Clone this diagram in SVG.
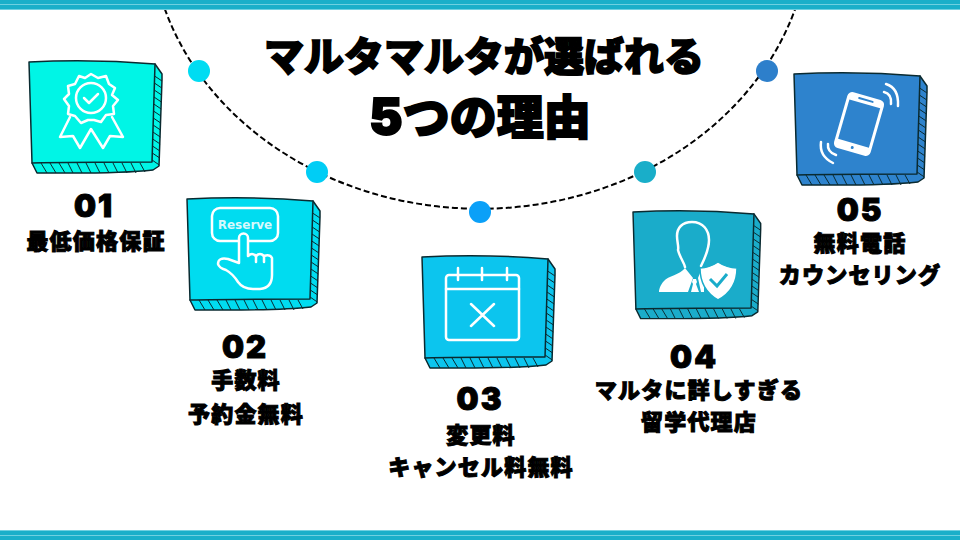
<svg xmlns="http://www.w3.org/2000/svg" width="960" height="540" viewBox="0 0 960 540">
<style>
.jp{font-family:"Noto Sans CJK JP","Noto Sans",sans-serif;font-weight:900;fill:#000;text-anchor:middle}
.t{font-size:40px;stroke:#000;stroke-width:1.6px}
.t2{font-size:47px;stroke:#000;stroke-width:1.8px}
.five{font-family:Inter,"Liberation Sans",sans-serif;font-size:50px;font-weight:900}
.l{font-size:22px;letter-spacing:1.2px;stroke:#000;stroke-width:1px}
.n{font-family:Inter,"Liberation Sans",sans-serif;font-weight:900;font-size:31px;letter-spacing:2px;text-anchor:middle;fill:#000;stroke:#000;stroke-width:1px}
.ln{fill:none;stroke:#fff;stroke-width:2.500px;stroke-linecap:round;stroke-linejoin:round}
.wf{fill:#fff}
.bx{stroke:#0a2a30;stroke-width:1.500px;stroke-linejoin:round}
.ht{fill:none;stroke:#0a2a30;stroke-width:1px}
</style>
<defs>
<g id="box">
<path class="bx" d="M126,2L133,12L133,18L130,104L124,108C90,112 50,111 8,111L3,101Z"/>
<path class="ht" d="M125.6,14l7.4,5M125.4,21l7.4,5M125.2,28l7.4,5M125,35l7.4,5M124.8,42l7.4,5M124.5,49l7.4,5M124.3,56l7.4,5M124.1,63l7.4,5M123.9,70l7.4,5M123.7,77l7.4,5M123.5,84l7.4,5M123.3,91l7.4,5M123.1,98l7.2,5M12,101l6,10M21,101l6,10M30,101l6,10M39,101l5,10M48,101l5,10M57,101l5,10M66,101l5,10M75,101l5,10M84,101l5,10M93,101l5,10M102,101l5,10M111,101l5,9"/>
<path class="bx" d="M0,0C40,-2 90,-1 126,2L123,100C85,100 40,100 3,101C2,70 1,35 0,0Z"/>
</g>
</defs>
<rect width="960" height="540" fill="#fff"/>
<g id="connectors">
<path d="M155,-26A330,284 0 0 0 805,-26" fill="none" stroke="#000" stroke-width="2" stroke-dasharray="6 3"/>
</g>
<g id="bars">
<rect width="960" height="10" fill="#1aafc9"/>
<rect y="4" width="960" height="1" fill="#6fd0e0"/>
<rect y="9" width="960" height="1" fill="#6fd0e0"/>
<rect y="530" width="960" height="10" fill="#1aafc9"/>
<rect y="530" width="960" height="1" fill="#6fd0e0"/>
<rect y="535" width="960" height="1" fill="#6fd0e0"/>
</g>
<g id="title">
<text class="jp t" x="484" y="71">マルタマルタが選ばれる</text>
<text class="jp t2" x="480" y="134"><tspan class="five">5</tspan>つの理由</text>
</g>
<g id="node-01">
<circle cx="199" cy="71" r="11" fill="#00dcf2"/>
<use href="#box" x="29" y="62" fill="#00f5e6"/>
<path class="ln" d="M91,74L98,78L106,76L109,84L115,88L112,95L118,100L113,106L114,114L106,115L101,122L94,120L88,120L81,123L75,116L68,114L69,106L64,99L69,94L68,86L75,84L79,76L85,78Z"/>
<circle class="ln" cx="91" cy="98" r="15"/>
<path class="ln" d="M84,98L89,103L98,94"/>
<path class="ln" d="M70,117L60,137L73,136L80,148L91,129L103,148L110,136L123,137L112,117"/>
<text class="n" x="94" y="217">01</text>
<text class="jp l" x="96" y="249">最低価格保証</text>
</g>
<g id="node-02">
<circle cx="317" cy="172" r="11" fill="#00cdf5"/>
<use href="#box" x="187" y="199" fill="#00dcf0"/>
<rect class="ln" x="212" y="208" width="66" height="33" rx="8"/>
<text x="245" y="229" font-family="DejaVu Sans,sans-serif" font-weight="700" font-size="12" text-anchor="middle" fill="#fff" fill-opacity=".85">Reserve</text>
<path class="ln" style="fill:#00dcf0" d="M248,256V238a4.5,4.5 0 0 0 -9,0V263L228,259Q218,257 218,264Q219,268 226,270Q233,274 238,282Q243,289 253,289L260,289Q272,288 272,275V258Q270,254 264,256Q260,252 256,256Q252,252 248,256Z"/>
<path class="ln" d="M256,256v6M264,256v6"/>
<text class="n" x="245" y="358">02</text>
<text class="jp l" x="246" y="388">手数料</text>
<text class="jp l" x="246" y="422">予約金無料</text>
</g>
<g id="node-03">
<circle cx="480" cy="212" r="11" fill="#0aa0f8"/>
<use href="#box" x="422" y="257" fill="#0cc5ee"/>
<rect class="ln" x="446" y="275" width="73" height="65" rx="3"/>
<path class="ln" d="M446,289H519M458,268V280M482,268V280M507,268V280M471,304L494,326M494,304L471,326"/>
<text class="n" x="480" y="410">03</text>
<text class="jp l" x="481" y="443">変更料</text>
<text class="jp l" x="481" y="475">キャンセル料無料</text>
</g>
<g id="node-04">
<circle cx="645" cy="172" r="11" fill="#19aec9"/>
<use href="#box" transform="translate(633,212) scale(.96)" fill="#1aacca"/>
<path class="ln" d="M692,222C682,222 677,228 677,236C677,242 679,247 678,250C680,258 684,262 685,267M692,222C703,222 709,230 709,240C709,248 705,258 701,266"/>
<path class="wf" d="M685,268C680,275 668,276 664,281C660,285 659,290 659,292H688L693,278Z"/>
<path class="wf" d="M693,279h3l1,3l-1,2l3,8h-8l2,-8l-1,-2ZM700,273l4,3v16h-3l-3,-14Z"/>
<path d="M718,262C724,266 730,268 737,268C737,282 731,293 718,300C706,293 700,282 700,268C707,268 712,266 718,262Z" class="wf" stroke="#1aacca" stroke-width="1.5"/>
<path d="M710,279L717,286L727,274" fill="none" stroke="#1aacca" stroke-width="3"/>
<text class="n" x="694" y="368">04</text>
<text class="jp l" x="699" y="398">マルタに詳しすぎる</text>
<text class="jp l" x="699" y="430">留学代理店</text>
</g>
<g id="node-05">
<circle cx="767" cy="71" r="11" fill="#2d7fcb"/>
<use href="#box" x="794" y="74" fill="#2e83cd"/>
<g transform="translate(859,124) rotate(16)">
<rect class="wf" x="-19" y="-29" width="38" height="58" rx="5"/>
<rect x="-16" y="-21" width="32" height="41" fill="#2e83cd"/>
<rect x="-8" y="-26" width="16" height="2" rx="1" fill="#2e83cd"/>
<circle cx="0" cy="24.500" r="1.500" fill="#2e83cd"/>
</g>
<path class="ln" d="M886,84Q899,88 898,106M884,92Q892,94 891,104M821,142Q819,156 833,163M828,144Q827,152 836,155"/>
<text class="n" x="860" y="221">05</text>
<text class="jp l" x="860" y="251">無料電話</text>
<text class="jp l" x="860" y="283">カウンセリング</text>
</g>
</svg>
